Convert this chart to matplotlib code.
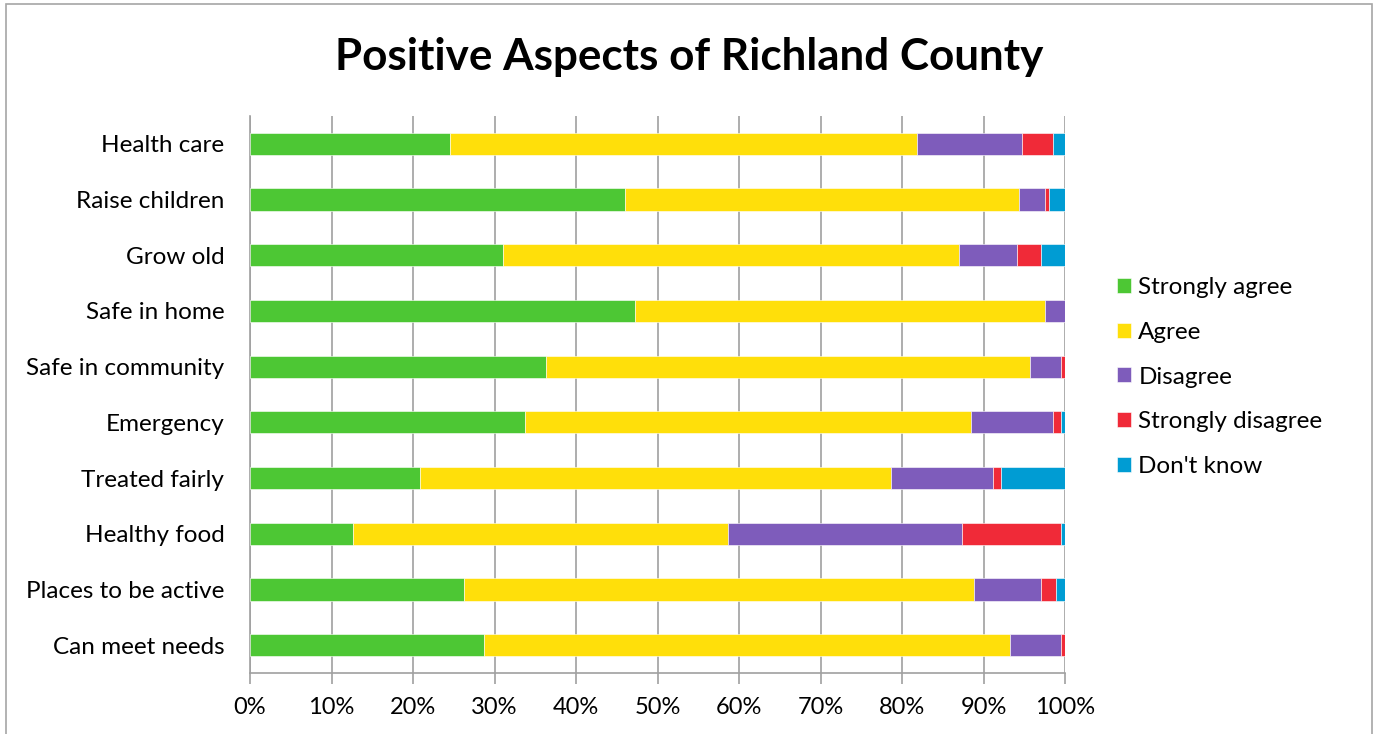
import matplotlib
matplotlib.use("Agg")
import matplotlib.pyplot as plt
from matplotlib.patches import Rectangle
from matplotlib.ticker import PercentFormatter
import numpy as np

plt.rcParams['font.family'] = ['Lato', 'DejaVu Sans']

categories = ["Health care", "Raise children", "Grow old", "Safe in home",
              "Safe in community", "Emergency", "Treated fairly", "Healthy food",
              "Places to be active", "Can meet needs"]

# Percent of respondents per answer (rows follow categories)
strongly_agree = [24.6, 46.0, 31.0, 47.2, 36.3, 33.7, 20.9, 12.6, 26.2, 28.7]
agree = [57.3, 48.3, 56.0, 50.4, 59.4, 54.8, 57.8, 46.1, 62.6, 64.5]
disagree = [12.8, 3.2, 7.1, 2.4, 3.8, 10.0, 12.5, 28.7, 8.3, 6.3]
strongly_disagree = [3.8, 0.5, 3.0, 0.0, 0.5, 1.0, 0.9, 12.1, 1.8, 0.5]
dont_know = [1.5, 2.0, 2.9, 0.0, 0.0, 0.5, 7.9, 0.5, 1.1, 0.0]

series_names = ["Strongly agree", "Agree", "Disagree", "Strongly disagree", "Don't know"]
series_colors = ["#4DC734", "#FFDF0A", "#7E5CBB", "#F02A38", "#009CD3"]

W, H = 1374, 734
fig = plt.figure(figsize=(W / 100, H / 100), dpi=100)
fig.patch.set_facecolor("white")

# outer chart frame (bottom edge runs off the canvas)
fig.add_artist(Rectangle((6 / W, -0.05), (1372 - 6) / W, (H - 4) / H + 0.05,
                         transform=fig.transFigure, fill=False,
                         edgecolor="#A6A6A6", linewidth=1.2))

ax = fig.add_axes([250 / W, (H - 673) / H, (1065 - 250) / W, (673 - 116) / H])

series = [strongly_agree, agree, disagree, strongly_disagree, dont_know]
y = np.arange(len(categories))
left = np.zeros(len(categories))
for name, vals, col in zip(series_names, series, series_colors):
    vals = np.array(vals)
    ax.barh(y, vals, left=left, height=0.40, color=col, label=name,
            edgecolor="white", linewidth=0.4, zorder=3)
    left += vals

ax.set_xlim(0, 100)
ax.set_ylim(len(categories) - 0.5, -0.5)
ax.set_yticks(y)
ax.set_yticklabels(categories, fontsize=17.5)
ax.set_xticks(np.arange(0, 101, 10))
ax.xaxis.set_major_formatter(PercentFormatter(decimals=0))
ax.tick_params(axis='x', labelsize=17, length=8, color="#A0A0A0", width=1.2, pad=9)
ax.tick_params(axis='y', length=0, pad=18.5)
ax.grid(axis='x', color="#A0A0A0", linewidth=1.2, zorder=0)
for s in ["top", "right"]:
    ax.spines[s].set_visible(False)
for s in ["left", "bottom"]:
    ax.spines[s].set_color("#A0A0A0")
    ax.spines[s].set_linewidth(1.2)

fig.text(689 / W, 1 - 57 / H, "Positive Aspects of Richland County",
         ha="center", va="center", fontsize=31.7, fontweight="bold")

handles, labels = ax.get_legend_handles_labels()
leg = fig.legend(handles, labels, loc="center left",
                 bbox_to_anchor=(1117 / W, 1 - 377 / H), frameon=False,
                 fontsize=17.5, handlelength=0.58, handleheight=0.58,
                 handletextpad=0.3, labelspacing=0.98,
                 borderpad=0, borderaxespad=0)

fig.savefig("out.png", dpi=100)
